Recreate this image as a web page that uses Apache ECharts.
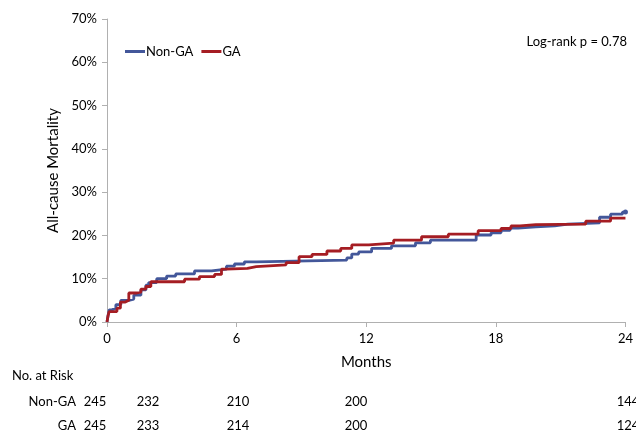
<!DOCTYPE html>
<html>
<head>
<meta charset="utf-8">
<script src="https://cdn.jsdelivr.net/npm/echarts@6/dist/echarts.min.js"></script>
<style>html,body{margin:0;padding:0;background:#fff}#c{width:636px;height:432px}</style>
</head>
<body>
<div id="c"></div>
<script>
// Kaplan-Meier cumulative mortality (months, %)
var nonGA = [[0,0],[0.05,1.5],[0.1,2.8],[0.23,3.2],[0.41,4.0],[0.64,5.0],[1.01,5.3],[1.24,6.2],[1.57,7.4],[1.80,8.5],[1.93,9.1],[2.30,10.0],[2.76,10.6],[3.18,11.1],[4.05,11.8],[4.84,12.2],[5.53,12.9],[5.90,13.4],[6.36,13.9],[6.91,14.3],[11.10,14.8],[11.33,15.7],[11.65,16.2],[12.25,17.0],[13.17,17.6],[14.28,18.3],[14.97,18.9],[17.09,20.1],[17.78,20.6],[18.24,21.2],[18.66,21.7],[19.03,22.0],[19.85,22.2],[20.73,22.6],[21.33,22.9],[22.80,24.2],[23.31,24.9],[23.86,25.4],[24,25.4]];
var ga = [[0,0],[0.05,1.5],[0.1,2.4],[0.46,3.2],[0.62,4.6],[0.85,5.0],[1.01,6.7],[1.38,6.9],[1.57,7.6],[1.80,8.2],[2.03,9.3],[3.59,9.9],[4.28,10.5],[4.98,11.0],[5.30,12.2],[5.53,12.4],[6.50,12.8],[6.91,13.2],[8.29,13.7],[8.89,15.1],[9.49,15.6],[10.18,16.4],[10.82,17.0],[11.33,17.8],[12.12,18.2],[13.27,18.9],[14.56,19.7],[15.80,20.3],[17.18,21.1],[18.24,21.6],[18.70,22.2],[19.12,22.5],[19.85,22.6],[22.16,23.3],[23.31,24.0],[24,24.0]];
var seriesNames = ['Non-GA','GA'];
var riskNonGA = ['245','232','210','200','144'];
var riskGA = ['245','233','214','200','124'];
var pText = 'Log-rank p = 0.78';

var FONT = 'Lato, "Open Sans", sans-serif';
var riskX = [95, 148, 238, 356, 628];
var chart = echarts.init(document.getElementById('c'), null, {renderer:'canvas'});
var g = [];
g.push({type:'text', left:12, top:369, style:{text:'No. at Risk', font:'13px '+FONT, fill:'#000'}});
g.push({type:'text', x:76, y:402, style:{text:seriesNames[0], font:'13px '+FONT, fill:'#000', align:'right', verticalAlign:'middle'}});
g.push({type:'text', x:76, y:426, style:{text:seriesNames[1], font:'13px '+FONT, fill:'#000', align:'right', verticalAlign:'middle'}});
for (var i=0;i<riskNonGA.length;i++){
  g.push({type:'text', x:riskX[i], y:402, style:{text:riskNonGA[i], font:'13px '+FONT, fill:'#000', align:'center', verticalAlign:'middle'}});
  g.push({type:'text', x:riskX[i], y:426, style:{text:riskGA[i], font:'13px '+FONT, fill:'#000', align:'center', verticalAlign:'middle'}});
}
g.push({type:'text', x:627, y:42, style:{text:pText, font:'13px '+FONT, fill:'#000', align:'right', verticalAlign:'middle'}});

chart.setOption({
  animation:false,
  textStyle:{fontFamily:FONT},
  grid:{left:107, right:8, top:19, bottom:110, containLabel:false},
  legend:{left:120, top:40, itemWidth:20, itemHeight:3, itemGap:8, icon:'rect',
    textStyle:{fontSize:13, color:'#000', padding:[0,0,0,-4]},
    data:seriesNames},
  xAxis:{type:'value', min:0, max:24, interval:6,
    name:'Months', nameLocation:'middle', nameGap:33, nameTextStyle:{fontSize:15,color:'#000'},
    axisLine:{lineStyle:{color:'#b0b0b0'}}, axisTick:{length:5, lineStyle:{color:'#b0b0b0'}},
    axisLabel:{fontSize:13, color:'#000', margin:10}, splitLine:{show:false}},
  yAxis:{type:'value', min:0, max:70, interval:10,
    name:'All-cause Mortality', nameLocation:'middle', nameGap:46, nameTextStyle:{fontSize:15,color:'#000'},
    axisLine:{show:true, lineStyle:{color:'#b0b0b0'}}, axisTick:{show:true, length:5, lineStyle:{color:'#b0b0b0'}},
    axisLabel:{fontSize:13, color:'#000', margin:10, formatter:'{value}%'}, splitLine:{show:false}},
  series:[
    {name:seriesNames[0], type:'line', step:'end', data:nonGA, color:'#43579a',
      symbol:function(v,p){return p.dataIndex===nonGA.length-1?'circle':'none';}, symbolSize:5,
      itemStyle:{color:'#43579a'}, lineStyle:{width:2.8, color:'#43579a'}, z:2},
    {name:seriesNames[1], type:'line', step:'end', data:ga, symbol:'none', color:'#a51d23', lineStyle:{width:2.8, color:'#a51d23'}, z:3}
  ],
  graphic:g
});
</script>
</body>
</html>
